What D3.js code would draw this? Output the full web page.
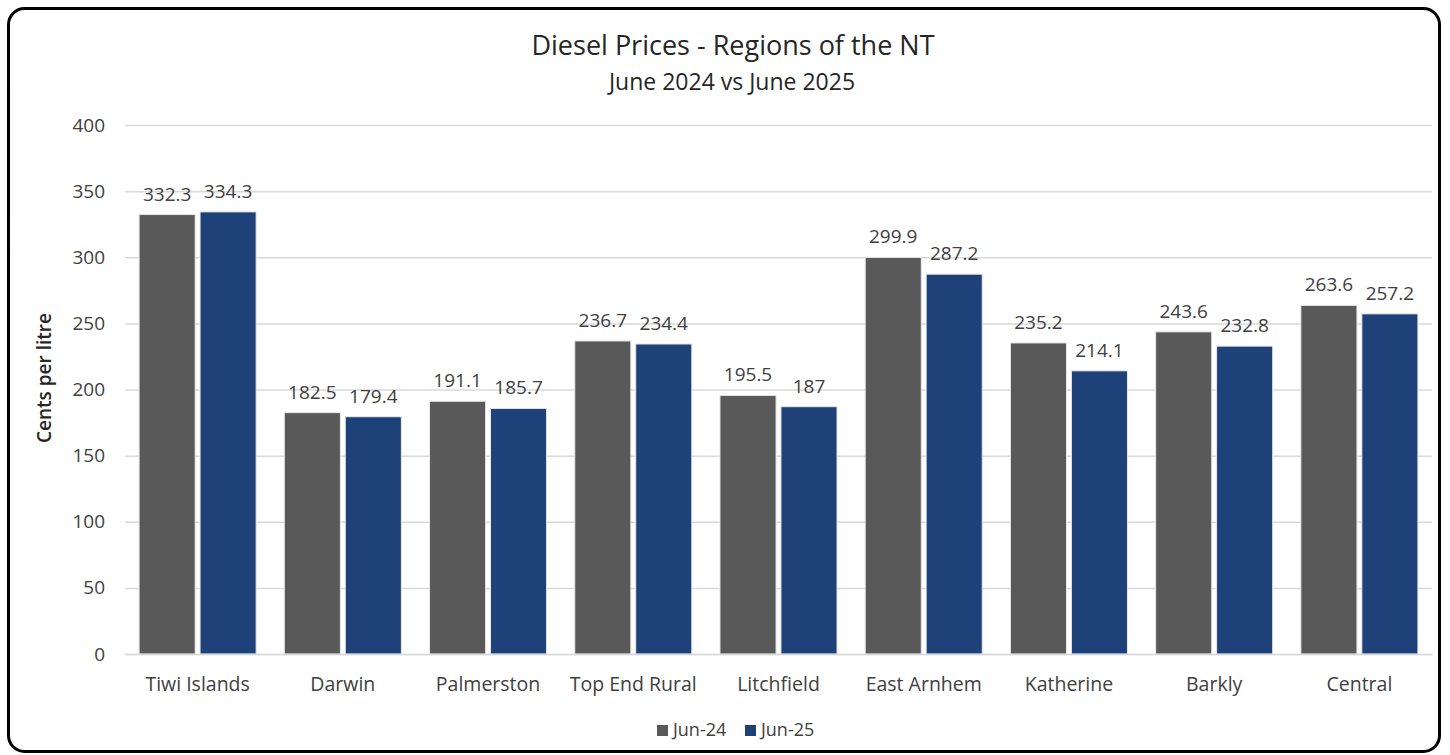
<!DOCTYPE html>
<html>
<head>
<meta charset="utf-8">
<script src="https://cdn.jsdelivr.net/npm/d3@7"></script>
<style>
  body { margin: 0; background: #fff; }
  svg { display: block; font-family: "Open Sans", sans-serif; }
</style>
</head>
<body>
<script>
var WIDTH = 1450, HEIGHT = 755;
var MARGIN = {top: 125, left: 125, right: 18, bottom: 101};
var INNER_WIDTH = WIDTH - MARGIN.left - MARGIN.right;
var INNER_HEIGHT = HEIGHT - MARGIN.top - MARGIN.bottom;

// data
var regions = ["Tiwi Islands", "Darwin", "Palmerston", "Top End Rural", "Litchfield",
               "East Arnhem", "Katherine", "Barkly", "Central"];
var seriesNames = ["Jun-24", "Jun-25"];
var jun24 = [332.3, 182.5, 191.1, 236.7, 195.5, 299.9, 235.2, 243.6, 263.6];
var jun25 = [334.3, 179.4, 185.7, 234.4, 187, 287.2, 214.1, 232.8, 257.2];
var yTicks = [0, 50, 100, 150, 200, 250, 300, 350, 400];
var colors = ["#595959", "#1d4178"];

var series = [jun24, jun25];

var _svg = d3.select("body").append("svg")
    .attr("width", WIDTH)
    .attr("height", HEIGHT);

// rounded frame
_svg.append("rect")
    .attr("x", 8.5).attr("y", 8.5)
    .attr("width", 1431).attr("height", 743)
    .attr("rx", 16).attr("ry", 16)
    .attr("fill", "#fff")
    .attr("stroke", "#000")
    .attr("stroke-width", 3);

// titles
_svg.append("text")
    .attr("x", 733).attr("y", 55)
    .attr("text-anchor", "middle")
    .attr("font-size", 27)
    .attr("fill", "#262626")
    .text("Diesel Prices - Regions of the NT");
_svg.append("text")
    .attr("x", 732).attr("y", 90)
    .attr("text-anchor", "middle")
    .attr("font-size", 23)
    .attr("fill", "#262626")
    .text("June 2024 vs June 2025");

var _yScale = d3.scaleLinear().domain([0, 400]).range([INNER_HEIGHT, 0]);
var _xScale = d3.scaleBand().domain(regions).range([0, INNER_WIDTH])
    .paddingInner(0.194).paddingOuter(0.097);
var _x1 = d3.scaleBand().domain(d3.range(seriesNames.length))
    .range([0, _xScale.bandwidth()]).paddingInner(0.08);

var g = _svg.append("g")
    .attr("transform", "translate(" + MARGIN.left + "," + MARGIN.top + ")");

// grid + y axis
var yAxis = g.append("g")
    .call(d3.axisLeft(_yScale).tickValues(yTicks).tickSize(-INNER_WIDTH).tickPadding(20));
yAxis.select(".domain").remove();
yAxis.selectAll(".tick line").attr("stroke", "#d9d9d9").attr("stroke-width", 1.5);
yAxis.selectAll(".tick text")
    .attr("font-size", 19)
    .attr("fill", "#404040")
    .attr("font-family", "Open Sans, sans-serif");

// y title
_svg.append("text")
    .attr("transform", "translate(51,378) rotate(-90)")
    .attr("text-anchor", "middle")
    .attr("font-size", 19)
    .attr("font-weight", 600)
    .attr("fill", "#262626")
    .text("Cents per litre");

// bars
var groups = g.selectAll(".grp").data(regions)
    .enter().append("g")
    .attr("class", "grp")
    .attr("transform", function(d){ return "translate(" + _xScale(d) + ",0)"; });

groups.selectAll("rect")
    .data(function(d, i){ return series.map(function(s, k){ return {k: k, v: s[i]}; }); })
    .enter().append("rect")
    .attr("x", function(d){ return _x1(d.k); })
    .attr("y", function(d){ return _yScale(d.v); })
    .attr("width", _x1.bandwidth())
    .attr("height", function(d){ return INNER_HEIGHT - _yScale(d.v); })
    .attr("fill", function(d){ return colors[d.k]; })
    .attr("stroke", "#e8e8e8")
    .attr("stroke-width", 1);

groups.selectAll(".lbl")
    .data(function(d, i){ return series.map(function(s, k){ return {k: k, v: s[i]}; }); })
    .enter().append("text")
    .attr("class", "lbl")
    .attr("x", function(d){ return _x1(d.k) + _x1.bandwidth() / 2; })
    .attr("y", function(d){ return _yScale(d.v) - 14; })
    .attr("text-anchor", "middle")
    .attr("font-size", 19)
    .attr("fill", "#404040")
    .text(function(d){ return d.v; });

// x axis
var xAxis = g.append("g")
    .attr("transform", "translate(0," + INNER_HEIGHT + ")")
    .call(d3.axisBottom(_xScale).tickSize(0).tickPadding(23));
xAxis.select(".domain").attr("stroke", "#d9d9d9").attr("stroke-width", 1.5);
xAxis.selectAll(".tick text")
    .attr("font-size", 19.5)
    .attr("fill", "#404040")
    .attr("font-family", "Open Sans, sans-serif");

// legend
var legendX = [657, 745];
var legend = _svg.selectAll(".leg").data(seriesNames)
    .enter().append("g")
    .attr("class", "leg")
    .attr("transform", function(d, i){ return "translate(" + legendX[i] + ",725)"; });
legend.append("rect")
    .attr("width", 11).attr("height", 11)
    .attr("fill", function(d, i){ return colors[i]; });
legend.append("text")
    .attr("x", 16).attr("y", 11)
    .attr("font-size", 18)
    .attr("fill", "#404040")
    .text(function(d){ return d; });
</script>
</body>
</html>
